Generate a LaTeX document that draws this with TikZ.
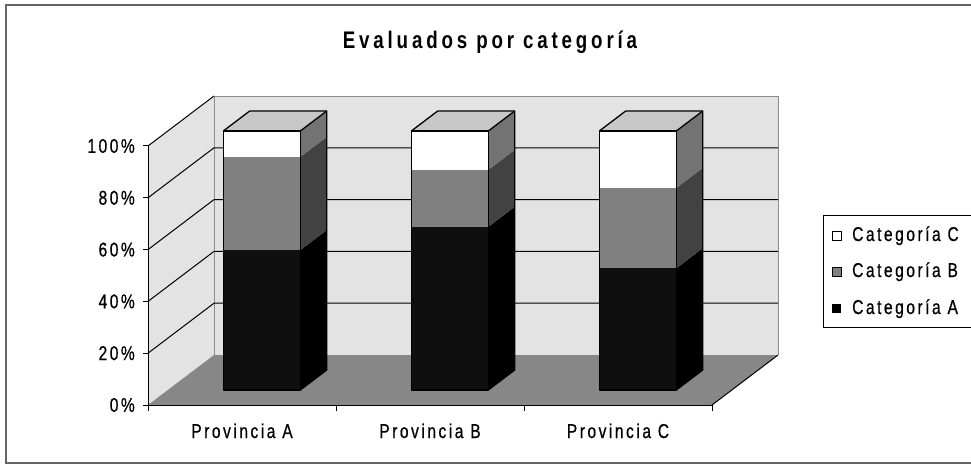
\documentclass[tikz,border=0pt]{standalone}
\usepackage{fontspec}
\setmainfont{Liberation Sans}
\newfontfamily\chartfont[LetterSpace=12.5, FakeStretch=0.78, FakeBold=0.6]{Liberation Sans}
\newfontfamily\titlefont[LetterSpace=16, FakeStretch=0.78]{Liberation Sans}
\usetikzlibrary{calc}
\usetikzlibrary{positioning}

\tikzset{
  titletext/.style={font=\titlefont\bfseries\fontsize{24}{27}\selectfont, inner sep=0pt},
  charttext/.style={font=\chartfont\fontsize{20}{22}\selectfont, inner sep=0pt},
  wallfill/.style={fill=black!11},
  floorfill/.style={fill=black!47},
  gridline/.style={draw=black, line width=1pt},
  walledge/.style={draw=black!45, line width=0.8pt},
  axisline/.style={draw=black, line width=1pt},
  baredge/.style={draw=black, line width=1.3pt, line join=round},
  topface/.style={fill=black!22},
  catAfront/.style={fill=black!94},
  catAside/.style={fill=black},
  catBfront/.style={fill=black!50},
  catBside/.style={fill=black!74},
  catCfront/.style={fill=white},
  catCside/.style={fill=black!55},
}

% one stacked bar: centre, share of A, share of A+B
\newcommand{\provbar}[3]{%
  \pgfmathsetmacro{\xl}{#1-38.5}%
  \pgfmathsetmacro{\xr}{#1+38.5}%
  \fill[catAfront] (\xl,0,0.3) rectangle (\xr,#2,0.3);
  \fill[catBfront] (\xl,#2,0.3) rectangle (\xr,#3,0.3);
  \fill[catCfront] (\xl,#3,0.3) rectangle (\xr,100,0.3);
  \fill[catAside] (\xr,0,0.3) -- (\xr,0,0.7) -- (\xr,#2,0.7) -- (\xr,#2,0.3) -- cycle;
  \fill[catBside] (\xr,#2,0.3) -- (\xr,#2,0.7) -- (\xr,#3,0.7) -- (\xr,#3,0.3) -- cycle;
  \fill[catCside] (\xr,#3,0.3) -- (\xr,#3,0.7) -- (\xr,100,0.7) -- (\xr,100,0.3) -- cycle;
  \fill[topface] (\xl,100,0.3) -- (\xl,100,0.7) -- (\xr,100,0.7) -- (\xr,100,0.3) -- cycle;
  \draw[baredge] (\xl,0,0.3) rectangle (\xr,100,0.3);
  \draw[baredge] (\xr,0,0.3) -- (\xr,0,0.7) -- (\xr,100,0.7) -- (\xl,100,0.7) -- (\xl,100,0.3);
  \draw[baredge] (\xr,100,0.3) -- (\xr,100,0.7);
}

\begin{document}
\begin{tikzpicture}[x=1pt, y=1pt]
  \useasboundingbox (0,0) rectangle (971,469);
  \clip (0,0) rectangle (971,469);

  % outer frame
  \draw[black!60, line width=1.2pt] (6,6) rectangle (990,464);

  % title
  \node[titletext, anchor=base] (title) at (490,420) {Evaluados por categoría};

  % plot area, origin at the front left corner of the floor
  \begin{scope}[shift={(148,64)}, y=2.59pt, z={(66pt,50pt)}]
    % walls and floor
    \fill[wallfill] (0,0,0) -- (0,0,1) -- (0,100,1) -- (0,100,0) -- cycle;
    \fill[wallfill] (0,0,1) -- (564,0,1) -- (564,100,1) -- (0,100,1) -- cycle;
    \fill[floorfill] (0,0,0) -- (564,0,0) -- (564,0,1) -- (0,0,1) -- cycle;
    \draw[walledge] (0,0,1) -- (0,100,1);
    \draw[walledge] (564,0,1) -- (564,100,1);

    % grid
    \foreach \p in {20,40,60,80} {
      \draw[gridline] (0,\p,0) -- (0,\p,1) -- (564,\p,1);
    }
    \draw[gridline] (0,100,0) -- (0,100,1);
    \draw[walledge] (0,100,1) -- (564,100,1);
    \draw[gridline] (564,0,0) -- (564,0,1);

    % axes
    \draw[axisline] (0,0,0) -- (0,100,0);
    \draw[axisline] (0,0,0) -- (564,0,0);
    \foreach \p in {0,20,...,100} {
      \draw[axisline] (0,\p,0) -- ++(-5pt,0pt);
      \node[charttext, anchor=east] (ylab\p) at ([xshift=-13pt]0,\p,0) {\p\%};
    }
    \foreach \t in {0,188,376,564} {
      \draw[axisline] (\t,0,0) -- ++(0pt,-6pt);
    }

    % bars
    \provbar{94}{54}{90}
    \provbar{282}{63}{85}
    \provbar{470}{47}{78}

    % category names
    \foreach \cx/\n in {94/A, 282/B, 470/C} {
      \node[charttext, anchor=base] (prov\n) at ([yshift=-33pt]\cx,0,0) {Provincia \n};
    }
  \end{scope}

  % legend
  \draw[black, line width=0.8pt] (823,142) rectangle (990,254);
  \node[charttext, anchor=base west] (legC) at (852,228) {Categoría C};
  \node[charttext, anchor=base west] (legB) at (852,192) {Categoría B};
  \node[charttext, anchor=base west] (legA) at (852,155) {Categoría A};
  \draw[black, fill=white, line width=0.9pt] ([xshift=-20pt,yshift=1pt]legC.base west) rectangle ++(9pt,9pt);
  \draw[black, fill=black!50, line width=0.6pt] ([xshift=-20pt,yshift=1pt]legB.base west) rectangle ++(9pt,9pt);
  \fill[black] ([xshift=-20pt,yshift=1pt]legA.base west) rectangle ++(9pt,9pt);
\end{tikzpicture}
\end{document}
